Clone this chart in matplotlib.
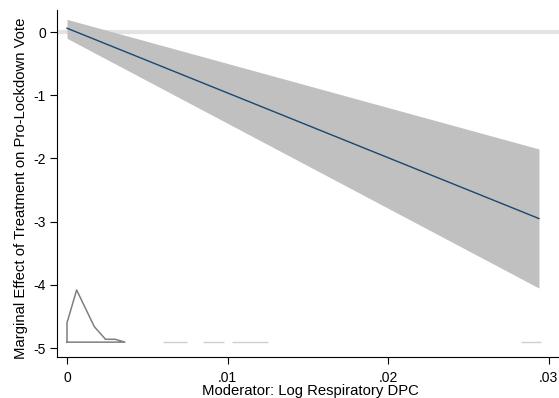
import matplotlib
matplotlib.use("Agg")
import matplotlib.pyplot as plt

plt.rcParams['font.family'] = ['Liberation Sans', 'DejaVu Sans']

# Marginal effect of treatment across the moderator range
moderator = [0.0, 0.0294]
effect = [0.06, -2.95]
ci_lower = [-0.10, -4.05]
ci_upper = [0.20, -1.85]

# Distribution of the moderator, drawn along the bottom of the panel
dens_x = [0.0, 0.0, 0.0006, 0.0017, 0.0024, 0.0030, 0.0036, 0.0036, 0.0]
dens_y = [-4.905, -4.60, -4.08, -4.66, -4.86, -4.86, -4.905, -4.905, -4.905]
dens_base = -4.905
sparse_from = [0.0060, 0.0085, 0.0103, 0.0283]
sparse_to = [0.0075, 0.0098, 0.0125, 0.0295]

xticks = [0.0, 0.01, 0.02, 0.03]
xtick_labels = ["0", ".01", ".02", ".03"]
yticks = [0, -1, -2, -3, -4, -5]
ytick_labels = ["0", "-1", "-2", "-3", "-4", "-5"]

fig = plt.figure(figsize=(5.59, 3.98), dpi=100)
ax = fig.add_axes([57 / 559, 41 / 398, 502 / 559, 347 / 398])

ax.axhline(0, color="#e3e3e3", lw=3.0, zorder=1)
ax.fill_between(moderator, ci_lower, ci_upper, color="#c0c0c0", lw=0, zorder=2)
ax.plot(moderator, effect, color="#1a476f", lw=1.0, zorder=3)

ax.plot(dens_x, dens_y, color="#7f7f7f", lw=1.1, zorder=3)
for a, b in zip(sparse_from, sparse_to):
    ax.plot([a, b], [dens_base, dens_base], color="#a0a0a0", lw=1.0, alpha=0.5,
            solid_capstyle="butt", zorder=3)

ax.set_xlim(-0.000623, 0.03065)
ax.set_ylim(-5.14, 0.348)

ax.set_xticks(xticks)
ax.set_xticklabels(xtick_labels)
ax.set_yticks(yticks)
ax.set_yticklabels(ytick_labels)

for side in ("top", "right"):
    ax.spines[side].set_visible(False)
for side in ("left", "bottom"):
    ax.spines[side].set_color("#000000")
    ax.spines[side].set_linewidth(0.8)

ax.tick_params(axis="both", direction="out", length=5, width=0.8,
               labelsize=10, color="#000000")
ax.tick_params(axis="x", pad=5)
ax.tick_params(axis="y", pad=3)

ax.set_xlabel("Moderator: Log Respiratory DPC", fontsize=10.7)
ax.set_ylabel("Marginal Effect of Treatment on Pro-Lockdown Vote", fontsize=10.7)
ax.xaxis.set_label_coords(0.504, -0.078)
ax.yaxis.set_label_coords(-0.058, 0.486)

fig.savefig("out.png", dpi=100)
